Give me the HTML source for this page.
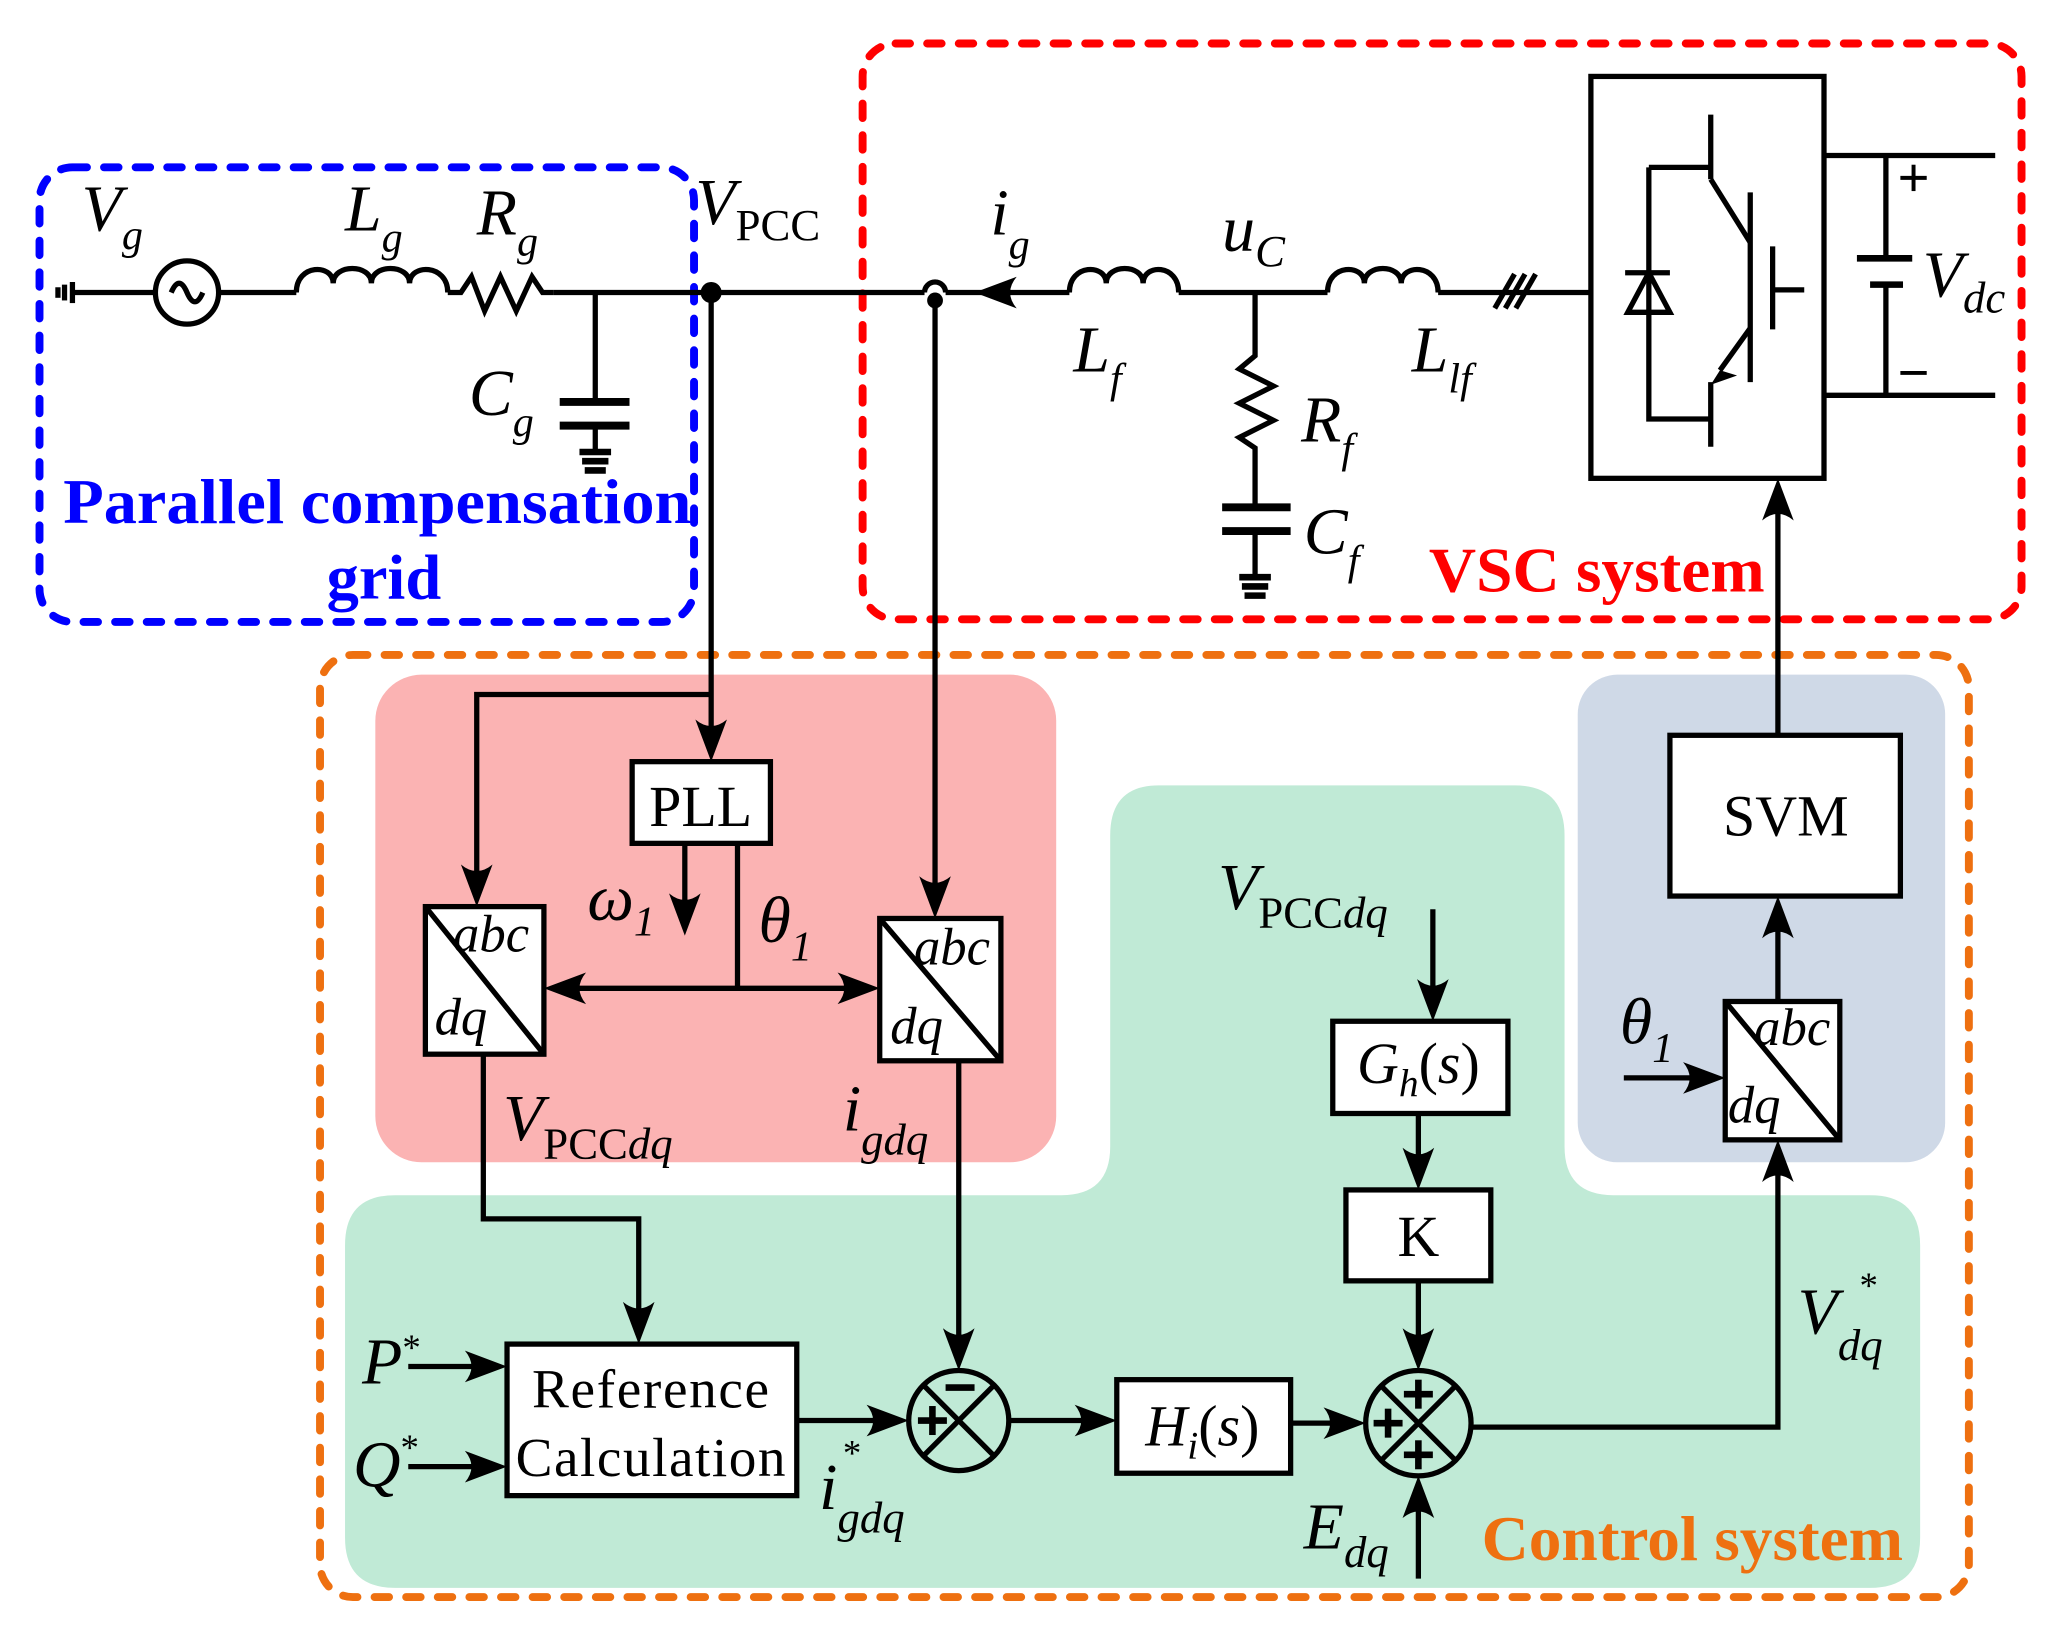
<!DOCTYPE html>
<html><head><meta charset="utf-8"><style>
html,body{margin:0;padding:0;background:#fff;}
svg{display:block;}
text{font-family:"Liberation Serif",serif;}
.i{font-style:italic;}
</style></head><body>
<svg width="2065" height="1634" viewBox="0 0 1568 1240" preserveAspectRatio="none" xmlns="http://www.w3.org/2000/svg">
<defs>
<path id="ad" d="M0 0 L-12 -32 Q0 -22 12 -32 Z"/>
</defs>
<rect x="285" y="512" width="517" height="370" rx="35" fill="#fbb3b3"/>
<rect x="1198" y="512" width="279" height="370" rx="30" fill="#cfd9e7"/>
<path d="M880 596 H1150 Q1188 596 1188 634 V870 Q1188 907 1225 907 H1420 Q1458 907 1458 945 V1167 Q1458 1205 1420 1205 H300 Q262 1205 262 1167 V945 Q262 907 300 907 H806 Q843 907 843 870 V634 Q843 596 880 596 Z" fill="#c0ead6"/>
<g fill="none" stroke-width="6" stroke-dasharray="11,13" stroke-linecap="round">
<rect x="30" y="127" width="497" height="345" rx="25" stroke="#0000ff"/>
<rect x="655" y="33" width="880" height="437" rx="25" stroke="#ff0000"/>
<rect x="243" y="497" width="1252" height="715" rx="25" stroke="#ee7010"/>
</g>

<g stroke="#000" stroke-width="4" fill="none">
<line x1="55" y1="214" x2="55" y2="230"/><line x1="49" y1="216" x2="49" y2="228"/><line x1="44" y1="218" x2="44" y2="226"/>
<line x1="55" y1="222" x2="118" y2="222"/>
<circle cx="142" cy="222" r="24"/>
<path d="M130 222 Q136 208 142 222 Q148 236 154 222"/>
<line x1="166" y1="222" x2="225" y2="222"/>
<path d="M225 222 C225 200 253 200 253 215 C253 200 282 200 282 215 C282 200 311 200 311 215 C311 200 340 200 340 222"/>
<path d="M340 222 L350 222 L358 210 L368 236 L380 210 L392 236 L404 210 L412 222 L420 222"/>
<line x1="420" y1="222" x2="702" y2="222"/>
<line x1="452" y1="222" x2="452" y2="305"/>
<line x1="425" y1="305" x2="478" y2="305" stroke-width="6"/>
<line x1="425" y1="323" x2="478" y2="323" stroke-width="6"/>
<line x1="452" y1="323" x2="452" y2="343"/>
<line x1="440" y1="343" x2="464" y2="343" stroke-width="5"/><line x1="442" y1="350" x2="462" y2="350" stroke-width="5"/><line x1="444" y1="357" x2="460" y2="357" stroke-width="5"/>
<path d="M702 222 A8 8 0 0 1 718 222"/>
<line x1="718" y1="222" x2="812" y2="222"/>
<path d="M812 222 C812 200 840 200 840 215 C840 200 868 200 868 215 C868 200 895 200 895 222"/>
<line x1="895" y1="222" x2="1008" y2="222"/>
<path d="M953 222 V270 L941 280 L967 293 L941 306 L967 319 L941 332 L953 340 V385"/>
<line x1="928" y1="385" x2="980" y2="385" stroke-width="6"/>
<line x1="928" y1="403" x2="980" y2="403" stroke-width="6"/>
<line x1="953" y1="403" x2="953" y2="438"/>
<line x1="941" y1="438" x2="965" y2="438" stroke-width="5"/><line x1="943" y1="445" x2="963" y2="445" stroke-width="5"/><line x1="945" y1="452" x2="961" y2="452" stroke-width="5"/>
<path d="M1008 222 C1008 200 1036 200 1036 215 C1036 200 1064 200 1064 215 C1064 200 1092 200 1092 222"/>
<line x1="1092" y1="222" x2="1208" y2="222"/>
<line x1="1135" y1="234" x2="1150" y2="208"/><line x1="1143" y1="234" x2="1158" y2="208"/><line x1="1151" y1="234" x2="1166" y2="208"/>
<rect x="1208" y="58" width="177" height="305" fill="#fff"/>
<line x1="1299" y1="87" x2="1299" y2="136"/>
<line x1="1299" y1="136" x2="1329" y2="184"/>
<line x1="1329" y1="146" x2="1329" y2="290"/>
<line x1="1346" y1="187" x2="1346" y2="250"/>
<line x1="1346" y1="220" x2="1370" y2="220"/>
<line x1="1329" y1="249" x2="1306" y2="281"/>
<line x1="1299" y1="290" x2="1299" y2="339"/>
<path d="M1252 127 H1299 M1252 127 V318 H1299"/>
<line x1="1234" y1="207" x2="1268" y2="207"/>
<path d="M1252 207 L1236 237 H1268 Z"/>
<line x1="1385" y1="118" x2="1515" y2="118"/>
<line x1="1385" y1="300" x2="1515" y2="300"/>
<line x1="1432" y1="118" x2="1432" y2="196"/>
<line x1="1410" y1="196" x2="1452" y2="196" stroke-width="5"/>
<line x1="1420" y1="216" x2="1445" y2="216" stroke-width="5"/>
<line x1="1432" y1="216" x2="1432" y2="300"/>
<line x1="1443" y1="135" x2="1463" y2="135" stroke-width="3"/><line x1="1453" y1="125" x2="1453" y2="145" stroke-width="3"/>
<line x1="1443" y1="283" x2="1463" y2="283" stroke-width="3"/>

<line x1="540" y1="222" x2="540" y2="560"/>
<path d="M540 527 H362 V670"/>
<line x1="710" y1="228" x2="710" y2="680"/>
<rect x="480" y="578" width="105" height="62" fill="#fff"/>
<line x1="520" y1="640" x2="520" y2="692"/>
<path d="M560 640 V750"/>
<line x1="432" y1="750" x2="650" y2="750"/>
<rect x="323" y="688" width="90" height="112" fill="#fff"/>
<line x1="323" y1="688" x2="413" y2="800"/>
<rect x="668" y="697" width="92" height="108" fill="#fff"/>
<line x1="668" y1="697" x2="760" y2="805"/>
<path d="M367 800 V925 H485 V1000"/>
<line x1="728" y1="805" x2="728" y2="1022"/>
<rect x="385" y="1020" width="220" height="115" fill="#fff"/>
<line x1="310" y1="1037" x2="365" y2="1037"/>
<line x1="310" y1="1113" x2="365" y2="1113"/>
<line x1="605" y1="1078" x2="670" y2="1078"/>
<circle cx="728" cy="1078" r="38"/>
<line x1="701" y1="1051" x2="755" y2="1105"/><line x1="755" y1="1051" x2="701" y2="1105"/>
<line x1="766" y1="1078" x2="828" y2="1078"/>
<rect x="848" y="1047" width="132" height="71" fill="#fff"/>
<line x1="980" y1="1080" x2="1018" y2="1080"/>
<circle cx="1077" cy="1080" r="40"/>
<line x1="1049" y1="1052" x2="1105" y2="1108"/><line x1="1105" y1="1052" x2="1049" y2="1108"/>
<line x1="1088" y1="690" x2="1088" y2="755"/>
<rect x="1012" y="775" width="133" height="70" fill="#fff"/>
<line x1="1077" y1="845" x2="1077" y2="884"/>
<rect x="1022" y="903" width="110" height="69" fill="#fff"/>
<line x1="1077" y1="972" x2="1077" y2="1021"/>
<line x1="1077" y1="1198" x2="1077" y2="1140"/>
<path d="M1117 1083 H1350 V885"/>
<rect x="1310" y="760" width="87" height="105" fill="#fff"/>
<line x1="1310" y1="760" x2="1397" y2="865"/>
<line x1="1233" y1="818" x2="1290" y2="818"/>
<line x1="1350" y1="760" x2="1350" y2="700"/>
<rect x="1268" y="558" width="175" height="122" fill="#fff"/>
<line x1="1350" y1="558" x2="1350" y2="383"/>
</g>
<g stroke="#000" stroke-width="5">
<line x1="697" y1="1078" x2="719" y2="1078"/><line x1="708" y1="1067" x2="708" y2="1089"/>
<line x1="718" y1="1053" x2="740" y2="1053"/>
<line x1="1043" y1="1080" x2="1065" y2="1080"/><line x1="1054" y1="1069" x2="1054" y2="1091"/>
<line x1="1066" y1="1058" x2="1088" y2="1058"/><line x1="1077" y1="1047" x2="1077" y2="1069"/>
<line x1="1066" y1="1104" x2="1088" y2="1104"/><line x1="1077" y1="1093" x2="1077" y2="1115"/>
</g>
<g fill="#000">
<circle cx="540" cy="222" r="8"/>
<circle cx="710" cy="228" r="6"/>
<use href="#ad" transform="translate(740,222) rotate(90)"/>
<path d="M1306 281 L1299 292 L1319 285 Z"/>
<use href="#ad" transform="translate(540,578)"/>
<use href="#ad" transform="translate(362,688)"/>
<use href="#ad" transform="translate(710,697)"/>
<use href="#ad" transform="translate(520,710)"/>
<use href="#ad" transform="translate(413,750) rotate(90)"/>
<use href="#ad" transform="translate(668,750) rotate(-90)"/>
<use href="#ad" transform="translate(485,1020)"/>
<use href="#ad" transform="translate(728,1040)"/>
<use href="#ad" transform="translate(385,1037) rotate(-90)"/>
<use href="#ad" transform="translate(385,1113) rotate(-90)"/>
<use href="#ad" transform="translate(690,1078) rotate(-90)"/>
<use href="#ad" transform="translate(848,1078) rotate(-90)"/>
<use href="#ad" transform="translate(1037,1080) rotate(-90)"/>
<use href="#ad" transform="translate(1088,775)"/>
<use href="#ad" transform="translate(1077,903)"/>
<use href="#ad" transform="translate(1077,1040)"/>
<use href="#ad" transform="translate(1077,1120) rotate(180)"/>
<use href="#ad" transform="translate(1350,865) rotate(180)"/>
<use href="#ad" transform="translate(1310,818) rotate(-90)"/>
<use href="#ad" transform="translate(1350,680) rotate(180)"/>
<use href="#ad" transform="translate(1350,363) rotate(180)"/>
</g>
<g font-size="50" fill="#000">
<text x="62" y="175" class="i">V<tspan font-size="32" dy="14">g</tspan></text>
<text x="262" y="175" class="i">L<tspan font-size="32" dy="16">g</tspan></text>
<text x="362" y="178" class="i">R<tspan font-size="32" dy="16">g</tspan></text>
<text x="528" y="170" class="i">V<tspan font-size="34" dy="12" font-style="normal">PCC</tspan></text>
<text x="356" y="315" class="i">C<tspan font-size="32" dy="16">g</tspan></text>
<text x="752" y="178" class="i">i<tspan font-size="32" dy="18">g</tspan></text>
<text x="928" y="190" class="i">u<tspan font-size="34" dy="12">C</tspan></text>
<text x="815" y="282" class="i">L<tspan font-size="32" dy="16">f</tspan></text>
<text x="1072" y="282" class="i">L<tspan font-size="32" dy="16">lf</tspan></text>
<text x="988" y="335" class="i">R<tspan font-size="32" dy="16">f</tspan></text>
<text x="990" y="420" class="i">C<tspan font-size="32" dy="16">f</tspan></text>
<text x="1460" y="225" class="i">V<tspan font-size="34" dy="12">dc</tspan></text>
<text x="446" y="698" class="i">ω<tspan font-size="32" dy="12">1</tspan></text>
<text x="576" y="715" class="i">θ<tspan font-size="32" dy="14">1</tspan></text>
<text x="1230" y="792" class="i">θ<tspan font-size="32" dy="14">1</tspan></text>
<text x="382" y="865" class="i">V<tspan font-size="34" dy="14" font-style="normal">PCC</tspan><tspan font-size="34">dq</tspan></text>
<text x="640" y="858" class="i">i<tspan font-size="34" dy="18">gdq</tspan></text>
<text x="925" y="690" class="i">V<tspan font-size="34" dy="14" font-style="normal">PCC</tspan><tspan font-size="34">dq</tspan></text>
<text x="275" y="1050" class="i">P<tspan font-size="28" dy="-18" font-style="normal">*</tspan></text>
<text x="268" y="1128" class="i">Q<tspan font-size="28" dy="-20" font-style="normal">*</tspan></text>
<text x="622" y="1145" class="i">i<tspan font-size="34" dy="18">gdq</tspan></text>
<text x="640" y="1112" font-size="28">*</text>
<text x="990" y="1175" class="i">E<tspan font-size="34" dy="14">dq</tspan></text>
<text x="1365" y="1012" class="i">V<tspan font-size="34" dy="20">dq</tspan></text>
<text x="1412" y="985" font-size="28">*</text>
</g>
<g font-size="44" fill="#000" text-anchor="middle">
<text x="532" y="627">PLL</text>
<text x="1356" y="634">SVM</text>
<text x="1077" y="953">K</text>
<text x="1077" y="822" class="i">G<tspan font-size="30" dy="10">h</tspan><tspan font-style="normal" dy="-10">(</tspan>s<tspan font-style="normal">)</tspan></text>
<text x="913" y="1097" class="i">H<tspan font-size="30" dy="10">i</tspan><tspan font-style="normal" dy="-10">(</tspan>s<tspan font-style="normal">)</tspan></text>
<text x="494" y="1068" font-size="42" textLength="180">Reference</text>
<text x="494" y="1120" font-size="42" textLength="205">Calculation</text>
</g>
<g font-size="40" class="i" fill="#000">
<text x="344" y="722">abc</text><text x="330" y="785">dq</text>
<text x="694" y="732">abc</text><text x="676" y="792">dq</text>
<text x="1332" y="793">abc</text><text x="1312" y="852">dq</text>
</g>
<g font-size="48" font-weight="bold">
<text x="48" y="397" fill="#0000ff" textLength="477" lengthAdjust="spacingAndGlyphs">Parallel compensation</text>
<text x="248" y="454" fill="#0000ff" textLength="87" lengthAdjust="spacingAndGlyphs">grid</text>
<text x="1085" y="449" fill="#ff0000" textLength="255" lengthAdjust="spacingAndGlyphs">VSC system</text>
<text x="1125" y="1184" fill="#ee7010" textLength="320" lengthAdjust="spacingAndGlyphs">Control system</text>
</g>
</svg>
</body></html>
